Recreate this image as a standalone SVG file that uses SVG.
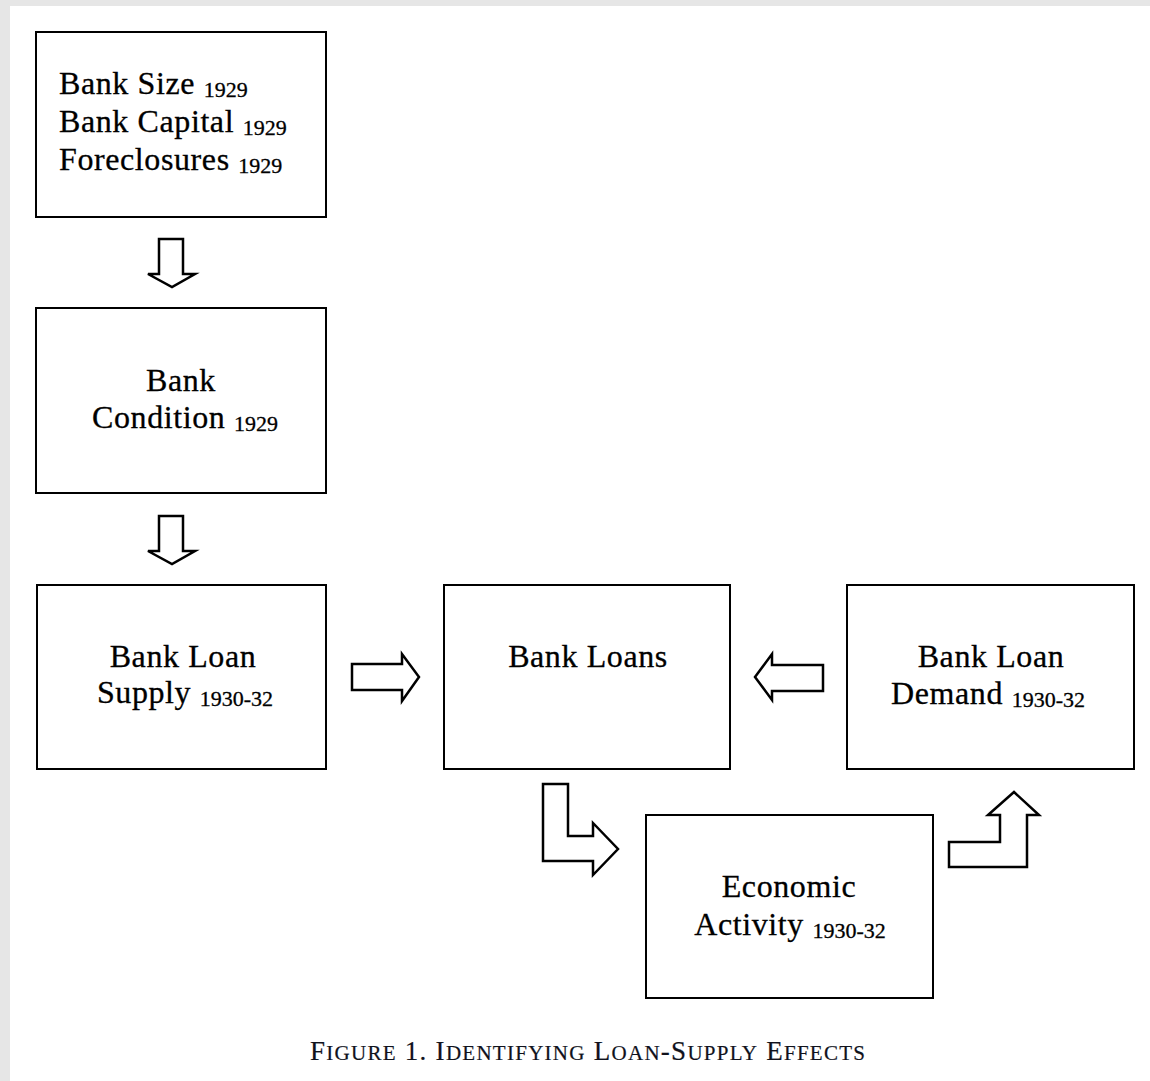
<svg xmlns="http://www.w3.org/2000/svg" width="1150" height="1081" viewBox="0 0 1150 1081">
<style>
.box{fill:#fff;stroke:#000;stroke-width:2}
.arr{fill:#fff;stroke:#000;stroke-width:2.5;stroke-linejoin:miter}
.t{font-family:"Liberation Serif","Times New Roman",serif;font-size:32px;letter-spacing:0.6px;fill:#000;stroke:#000;stroke-width:0.3;text-anchor:middle}
.s{font-size:22px;letter-spacing:0}
.cap{font-family:"Liberation Serif","Times New Roman",serif;fill:#10121c;stroke:#10121c;stroke-width:0.2}
</style>
<rect x="0" y="0" width="1150" height="1081" fill="#e6e6e6"/>
<rect x="10" y="6" width="1140" height="1075" fill="#fff"/>

<g id="node-bank-size">
<rect class="box" x="36" y="32" width="290" height="185"/>
<text class="t" style="text-anchor:start" x="59" y="94">Bank Size <tspan class="s" dy="3">1929</tspan></text>
<text class="t" style="text-anchor:start" x="59" y="132">Bank Capital <tspan class="s" dy="3">1929</tspan></text>
<text class="t" style="text-anchor:start" x="59" y="170">Foreclosures <tspan class="s" dy="3">1929</tspan></text>
</g>

<g id="node-bank-condition">
<rect class="box" x="36" y="308" width="290" height="185"/>
<text class="t" x="181" y="391">Bank</text>
<text class="t" x="185" y="428">Condition <tspan class="s" dy="3">1929</tspan></text>
</g>

<g id="node-loan-supply">
<rect class="box" x="37" y="585" width="289" height="184"/>
<text class="t" x="183" y="667">Bank Loan</text>
<text class="t" x="185" y="703">Supply <tspan class="s" dy="3">1930-32</tspan></text>
</g>

<g id="node-bank-loans">
<rect class="box" x="444" y="585" width="286" height="184"/>
<text class="t" x="588" y="667">Bank Loans</text>
</g>

<g id="node-loan-demand">
<rect class="box" x="847" y="585" width="287" height="184"/>
<text class="t" x="991" y="667">Bank Loan</text>
<text class="t" x="988" y="704">Demand <tspan class="s" dy="3">1930-32</tspan></text>
</g>

<g id="node-economic-activity">
<rect class="box" x="646" y="815" width="287" height="183"/>
<text class="t" x="789" y="897">Economic</text>
<text class="t" x="790" y="935">Activity <tspan class="s" dy="3">1930-32</tspan></text>
</g>

<g id="connectors">
<polygon class="arr" points="159,239 183,239 183,274 195,274 172,287 148,274 159,274"/>
<polygon class="arr" points="159,516 183,516 183,551 195,551 172,564 148,551 159,551"/>
<polygon class="arr" points="352,664 402,664 402,654 419,677 402,701 402,690 352,690"/>
<polygon class="arr" points="823,665 772,665 772,654 755,677 772,700 772,691 823,691"/>
<polygon class="arr" points="543,784 568,784 568,836 593,836 593,823 618,849 593,875 593,861 543,861"/>
<polygon class="arr" points="949,842 1000,842 1000,815 988,815 1014,792 1039,815 1027,815 1027,867 949,867"/>
</g>

<text class="cap" x="310" y="1060" textLength="555" lengthAdjust="spacing"><tspan font-size="27">F</tspan><tspan font-size="21">IGURE</tspan><tspan font-size="27"> 1.  I</tspan><tspan font-size="21">DENTIFYING</tspan><tspan font-size="27"> L</tspan><tspan font-size="21">OAN</tspan><tspan font-size="27">-S</tspan><tspan font-size="21">UPPLY</tspan><tspan font-size="27"> E</tspan><tspan font-size="21">FFECTS</tspan></text>
</svg>
